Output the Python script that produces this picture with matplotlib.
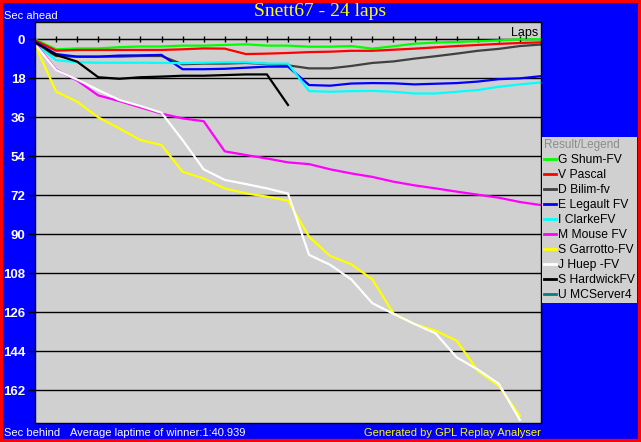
import matplotlib
matplotlib.use("Agg")
import matplotlib.pyplot as plt
from matplotlib.lines import Line2D
from matplotlib.patches import Rectangle
from matplotlib.transforms import blended_transform_factory

# seconds ahead(-)/behind(+) the winner's average pace, one value per lap
shum = [0.0, 4.6, 4.2, 4.2, 3.6, 3.3, 3.3, 2.9, 2.9, 2.6, 2.3, 2.9, 2.9, 3.4, 3.4, 3.1, 4.3, 3.2, 2.0, 1.5, 1.2, 0.9, 0.5, 0.0, 0.0]
pascal = [0.5, 5.2, 4.9, 4.9, 4.9, 4.9, 4.9, 4.6, 4.2, 4.3, 6.8, 6.6, 6.3, 5.9, 5.7, 5.3, 5.3, 4.8, 4.3, 3.7, 3.1, 2.6, 2.1, 1.7, 1.4]
bilim = [2.2, 7.7, 8.0, 8.0, 8.0, 7.7, 7.7, 11.5, 11.2, 11.2, 10.9, 11.4, 12.0, 13.4, 13.4, 12.3, 10.9, 10.2, 8.9, 7.8, 6.6, 5.3, 4.4, 3.1, 2.4]
legault = [1.1, 6.8, 8.0, 8.0, 7.5, 7.4, 7.2, 13.8, 13.8, 13.6, 13.1, 12.6, 12.6, 21.1, 21.4, 20.4, 20.2, 20.3, 20.8, 20.5, 20.2, 19.5, 18.4, 18.0, 17.0]
clarke = [1.8, 9.6, 10.6, 10.8, 10.8, 10.8, 10.9, 11.0, 10.8, 10.6, 10.6, 11.2, 11.2, 23.9, 24.2, 23.9, 23.8, 24.2, 25.0, 25.0, 24.2, 23.4, 21.9, 20.8, 19.9]
mouse = [1.8, 14.0, 19.0, 25.9, 28.5, 31.4, 34.3, 36.5, 37.8, 51.7, 53.4, 55.0, 56.8, 57.6, 60.0, 61.9, 63.5, 65.7, 67.4, 68.8, 70.3, 71.7, 73.1, 75.1, 76.5]
garrotto = [2.5, 24.1, 28.8, 36.0, 41.1, 46.5, 48.8, 61.1, 64.2, 68.8, 71.1, 72.6, 74.5, 91.1, 100.0, 103.8, 110.8, 126.5, 131.4, 134.5, 139.1, 153.0, 160.0, 173.8]
huep = [2.2, 14.2, 18.6, 23.4, 28.0, 30.8, 33.9, 46.5, 60.0, 64.9, 66.8, 68.8, 71.2, 99.5, 104.1, 110.8, 121.8, 126.7, 131.4, 135.7, 146.8, 152.4, 159.0, 175.7]
hardwick = [1.5, 7.2, 10.3, 17.5, 18.2, 17.5, 17.2, 16.8, 16.8, 16.5, 16.2, 16.2, 30.3]
mcserver = []

drivers = ["G Shum-FV", "V Pascal", "D Bilim-fv", "E Legault FV", "I ClarkeFV",
           "M Mouse FV", "S Garrotto-FV", "J Huep -FV", "S HardwickFV", "U MCServer4"]
series = [shum, pascal, bilim, legault, clarke, mouse, garrotto, huep, hardwick, mcserver]
colors = ["#00ff00", "#ff0000", "#404040", "#0000ff", "#00ffff",
          "#ff00ff", "#ffff00", "#ffffff", "#000000", "#008080"]

total_laps = 24
ytick_vals = list(range(0, 163, 18))
y_bottom, y_top = 177.1, -8.0

W, H = 641, 442
fig = plt.figure(figsize=(W / 100, H / 100), dpi=100, facecolor="#0000ff")

ax = fig.add_axes([35 / W, (H - 423) / H, 506 / W, 401 / H], facecolor="#d0d0d0")
for vals, col in zip(series, colors):
    if vals:
        ax.plot(range(len(vals)), vals, color=col, lw=1.6)

ax.set_xlim(0, total_laps)
ax.set_ylim(y_bottom, y_top)
ax.set_xticks([])
ax.set_yticks(ytick_vals)
ax.set_yticklabels([str(v) for v in ytick_vals], fontweight="bold",
                   fontsize=9.5, family="Liberation Sans")
ax.tick_params(axis="y", direction="out", length=5, width=1, color="black",
               labelcolor="white", pad=2)
ax.yaxis.grid(True, color="black", lw=1)
ax.set_axisbelow(True)
for sp in ax.spines.values():
    sp.set_color("black")
    sp.set_linewidth(1)

# lap ticks sitting on the zero line
zero_frac = (0 - y_bottom) / (y_top - y_bottom)
sec = ax.secondary_xaxis(zero_frac)
sec.set_xticks(range(1, total_laps))
sec.tick_params(direction="inout", length=4.5, width=1, color="black",
                labeltop=False, labelbottom=False)
ax.text(0.995, 0.0, "Laps", transform=blended_transform_factory(ax.transAxes, ax.transData),
        ha="right", va="bottom", fontsize=9, family="Liberation Sans", color="black")

# legend panel
lax = fig.add_axes([542 / W, (H - 303) / H, 95 / W, 166 / H], facecolor="#d0d0d0")
lax.set_xticks([])
lax.set_yticks([])
for sp in lax.spines.values():
    sp.set_visible(False)
handles = [Line2D([], [], color=c, lw=2) for c in colors]
leg = lax.legend(handles, drivers, loc="upper left", frameon=False,
                 title="Result/Legend", title_fontsize=8.5,
                 handlelength=1.0, handletextpad=0.2, labelspacing=0.25,
                 borderaxespad=0.0, borderpad=0.15,
                 prop={"family": "Liberation Sans", "size": 8.7})
leg.get_title().set_color("#8c8c8c")
leg.get_title().set_family("Liberation Sans")
leg._legend_box.align = "left"

# texts
fig.text(320 / W, 1 - 11 / H, "Snett67 - 24 laps", color="#ffff00", ha="center",
         va="center", fontsize=14, family="Liberation Serif")
fig.text(4 / W, 1 - 16 / H, "Sec ahead", color="white", ha="left", va="center",
         fontsize=8, family="Liberation Sans")
fig.text(4 / W, 1 - 433 / H, "Sec behind", color="white", ha="left", va="center",
         fontsize=8, family="Liberation Sans")
fig.text(70 / W, 1 - 433 / H, "Average laptime of winner:1:40.939", color="white",
         ha="left", va="center", fontsize=8, family="Liberation Sans")
fig.text(541 / W, 1 - 433 / H, "Generated by GPL Replay Analyser", color="#ffff00",
         ha="right", va="center", fontsize=8, family="Liberation Sans")

# red frame round the whole picture
fig.patches.append(Rectangle((0, 0), 1, 1, transform=fig.transFigure, fill=False,
                             edgecolor="#ff0000", lw=4.5, clip_on=False))

fig.savefig("out.png", dpi=100, facecolor=fig.get_facecolor())
